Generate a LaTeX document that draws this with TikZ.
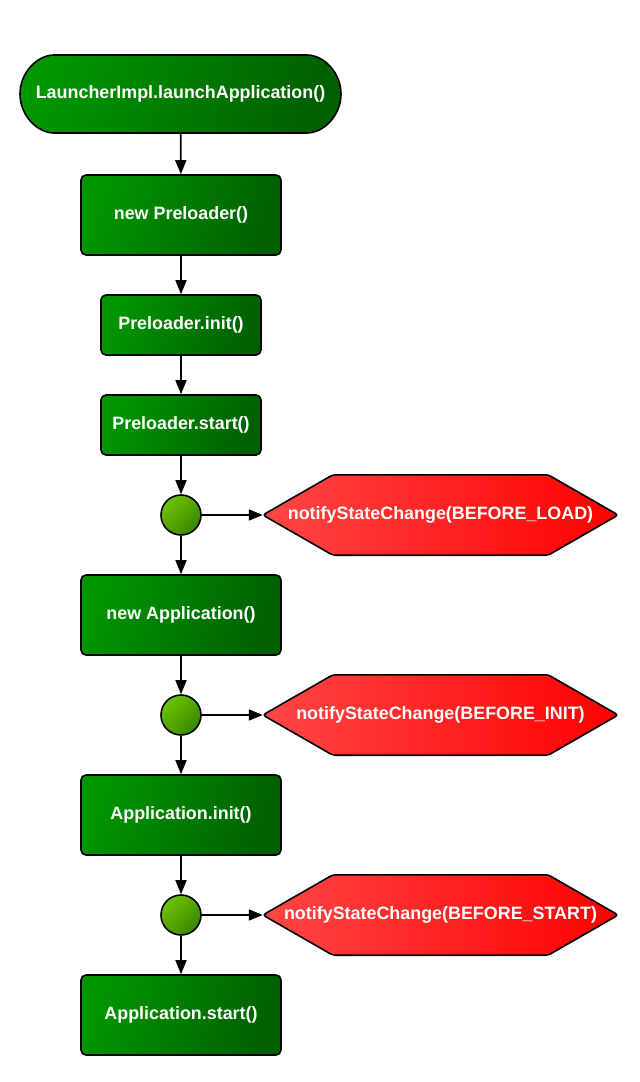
\documentclass[tikz,border=0pt]{standalone}
\usepackage{fontspec}
\setmainfont{Liberation Sans}
\usetikzlibrary{arrows.meta,shapes.misc,backgrounds}
\definecolor{gA}{RGB}{0,150,0}
\definecolor{gB}{RGB}{0,96,0}
\definecolor{rA}{RGB}{255,70,70}
\definecolor{rB}{RGB}{255,0,0}
\definecolor{cA}{RGB}{110,195,0}
\definecolor{cB}{RGB}{55,135,0}
\tikzset{
  lbl/.style={text=white, font=\fontsize{17.9}{20}\selectfont\bfseries},
  gbox/.style={lbl, draw=black, line width=1.6pt, rounded corners=5pt, rectangle,
    left color=gA, right color=gB, shading angle=70, inner sep=0pt},
  startnode/.style={gbox, rounded rectangle, minimum width=321pt, minimum height=78pt},
  hexnode/.style={lbl, rectangle, minimum width=355pt, minimum height=80pt, inner sep=0pt},
  hexshape/.style={draw=black, line width=1.6pt, rounded corners=3pt, left color=rA, right color=rB},
  dot/.style={circle, draw=black, line width=1.6pt, minimum size=40pt, inner sep=0pt,
    left color=cA, right color=cB, shading angle=45},
  arr/.style={line width=1.6pt, -{Triangle[length=14pt,width=11pt]}}
}
\newcommand{\hexbg}[1]{%
  \begin{scope}[on background layer]
  \path[hexshape] (#1.west) -- ([xshift=70pt]#1.north west) -- ([xshift=-70pt]#1.north east)
    -- (#1.east) -- ([xshift=-70pt]#1.south east) -- ([xshift=70pt]#1.south west) -- cycle;
  \end{scope}}
\begin{document}
\begin{tikzpicture}[x=1pt,y=-1pt]
\useasboundingbox (0,0) rectangle (640,1082);
\node[startnode] (s) at (180.5,94) {LauncherImpl.launchApplication()};
\node[gbox, minimum width=200pt, minimum height=80pt] (b1) at (181,215) {new Preloader()};
\node[gbox, minimum width=160pt, minimum height=60pt] (b2) at (181,325) {Preloader.init()};
\node[gbox, minimum width=160pt, minimum height=60pt] (b3) at (181,425) {Preloader.start()};
\node[dot] (c1) at (181,515) {};
\node[hexnode] (h1) at (440.5,515) {notifyStateChange(BEFORE\_LOAD)};
\hexbg{h1}
\node[gbox, minimum width=200pt, minimum height=80pt] (b4) at (181,615) {new Application()};
\node[dot] (c2) at (181,715) {};
\node[hexnode] (h2) at (440.5,715) {notifyStateChange(BEFORE\_INIT)};
\hexbg{h2}
\node[gbox, minimum width=200pt, minimum height=80pt] (b5) at (181,815) {Application.init()};
\node[dot] (c3) at (181,915) {};
\node[hexnode] (h3) at (440.5,915) {notifyStateChange(BEFORE\_START)};
\hexbg{h3}
\node[gbox, minimum width=200pt, minimum height=80pt] (b6) at (181,1015) {Application.start()};
\draw[arr] (s) -- (b1);
\draw[arr] (b1) -- (b2);
\draw[arr] (b2) -- (b3);
\draw[arr] (b3) -- (c1);
\draw[arr] (c1) -- (b4);
\draw[arr] (c1) -- (h1.west);
\draw[arr] (b4) -- (c2);
\draw[arr] (c2) -- (b5);
\draw[arr] (c2) -- (h2.west);
\draw[arr] (b5) -- (c3);
\draw[arr] (c3) -- (b6);
\draw[arr] (c3) -- (h3.west);
\end{tikzpicture}
\end{document}
